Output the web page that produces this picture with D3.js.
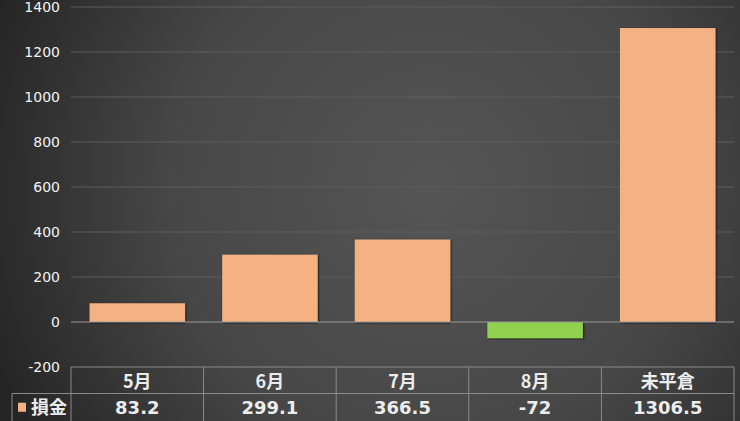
<!DOCTYPE html>
<html>
<head>
<meta charset="utf-8">
<script src="https://cdn.jsdelivr.net/npm/d3@7"></script>
<style>
  html, body { margin: 0; padding: 0; background: #2a2a2a; }
  svg { display: block; }
  text { font-family: "Noto Sans CJK JP", "Noto Sans", sans-serif; }
</style>
</head>
<body>
<div id="chart"></div>
<script>
// data
var categories = ["5月", "6月", "7月", "8月", "未平倉"];
var values = [83.2, 299.1, 366.5, -72, 1306.5];
var valueLabels = ["83.2", "299.1", "366.5", "-72", "1306.5"];
var seriesName = "損金";
var yTicks = [-200, 0, 200, 400, 600, 800, 1000, 1200, 1400];

var W = 740, H = 421;
var margin = {top: 7, right: 6, bottom: 54, left: 71};
var plotW = W - margin.left - margin.right;
var plotH = H - margin.top - margin.bottom;

var svg = d3.select("#chart").append("svg")
  .attr("width", W)
  .attr("height", H);

var defs = svg.append("defs");
var grad = defs.append("radialGradient")
  .attr("id", "bg")
  .attr("gradientUnits", "userSpaceOnUse")
  .attr("cx", 430).attr("cy", 190).attr("r", 470);
grad.append("stop").attr("offset", "0%").attr("stop-color", "#555555");
grad.append("stop").attr("offset", "55%").attr("stop-color", "#474747");
grad.append("stop").attr("offset", "100%").attr("stop-color", "#252525");

var shadow = defs.append("filter").attr("id", "shadow")
  .attr("x", "-10%").attr("y", "-10%").attr("width", "120%").attr("height", "120%");
shadow.append("feDropShadow")
  .attr("dx", 0.8).attr("dy", 0.8).attr("stdDeviation", 0.8)
  .attr("flood-color", "#000").attr("flood-opacity", 0.75);

svg.append("rect").attr("width", W).attr("height", H).attr("fill", "url(#bg)");

var g = svg.append("g").attr("transform", "translate(" + margin.left + "," + margin.top + ")");

var x = d3.scaleBand()
  .domain(categories)
  .range([0, plotW])
  .paddingInner(0.28)
  .paddingOuter(0.14);

var y = d3.scaleLinear()
  .domain([-200, 1400])
  .range([plotH, 0]);

// gridlines
g.append("g")
  .selectAll("line")
  .data(yTicks.filter(function(d){ return d !== 0 && d !== -200; }))
  .enter()
  .append("line")
  .attr("x1", 0).attr("x2", plotW)
  .attr("y1", function(d){ return y(d); })
  .attr("y2", function(d){ return y(d); })
  .attr("stroke", "#5c5c5c")
  .attr("stroke-width", 1);

// y axis labels
var yAxis = g.append("g")
  .call(d3.axisLeft(y).tickValues(yTicks).tickSize(0).tickPadding(11)
    .tickFormat(function(d){ return d < 0 ? "-" + Math.abs(d) : d; }));
yAxis.select(".domain").remove();
yAxis.selectAll("text")
  .attr("fill", "#f2f2f2")
  .style("font-size", "14px")
  .style("font-family", "'DejaVu Sans', 'Noto Sans', sans-serif");

// bars
g.append("g")
  .selectAll("rect")
  .data(values)
  .enter()
  .append("rect")
  .attr("x", function(d, i){ return x(categories[i]); })
  .attr("width", x.bandwidth())
  .attr("y", function(d){ return y(Math.max(0, d)); })
  .attr("height", function(d){ return Math.abs(y(d) - y(0)); })
  .attr("fill", function(d){ return d < 0 ? "#92d050" : "#f4b183"; })
  .attr("filter", "url(#shadow)");

// zero line
g.append("line")
  .attr("x1", 0).attr("x2", plotW)
  .attr("y1", y(0)).attr("y2", y(0))
  .attr("stroke", "#9a9a9a")
  .attr("stroke-width", 1.2);

// data table
var tableTop = y(-200);
var rowH = 26.5;
var tableLeft = 12 - margin.left;
var lineColor = "#8a8a8a";
var table = g.append("g").attr("class", "table");

// horizontal lines
table.append("line")
  .attr("x1", 0).attr("x2", plotW)
  .attr("y1", tableTop).attr("y2", tableTop)
  .attr("stroke", lineColor);
table.append("line")
  .attr("x1", tableLeft).attr("x2", plotW)
  .attr("y1", tableTop + rowH).attr("y2", tableTop + rowH)
  .attr("stroke", lineColor);

// vertical lines (category boundaries)
var bounds = [0].concat(categories.map(function(c){ return x(c) + x.bandwidth() + x.step() * x.paddingInner() / 2; }));
bounds[bounds.length - 1] = plotW;
table.selectAll(".vline")
  .data(bounds)
  .enter()
  .append("line")
  .attr("class", "vline")
  .attr("x1", function(d){ return d; }).attr("x2", function(d){ return d; })
  .attr("y1", tableTop).attr("y2", H)
  .attr("stroke", lineColor);
table.append("line")
  .attr("x1", tableLeft).attr("x2", tableLeft)
  .attr("y1", tableTop + rowH).attr("y2", H)
  .attr("stroke", lineColor);

// category labels
table.selectAll(".cat")
  .data(categories)
  .enter()
  .append("text")
  .attr("class", "cat")
  .attr("x", function(d){ return x(d) + x.bandwidth() / 2; })
  .attr("y", tableTop + rowH / 2 + 1)
  .attr("dy", "0.36em")
  .attr("text-anchor", "middle")
  .attr("fill", "#ececec")
  .style("font-size", "18px")
  .style("font-weight", "bold")
  .text(function(d){ return d; });

// values row
table.selectAll(".val")
  .data(valueLabels)
  .enter()
  .append("text")
  .attr("class", "val")
  .attr("x", function(d, i){ return x(categories[i]) + x.bandwidth() / 2; })
  .attr("y", tableTop + rowH * 1.5 + 1)
  .attr("dy", "0.36em")
  .attr("text-anchor", "middle")
  .attr("fill", "#ececec")
  .style("font-size", "18px")
  .style("font-weight", "bold")
  .style("font-family", "'DejaVu Sans', 'Noto Sans', sans-serif")
  .text(function(d){ return d; });

// legend key + series name
table.append("rect")
  .attr("x", tableLeft + 6).attr("y", tableTop + rowH * 1.5 - 4)
  .attr("width", 8).attr("height", 9)
  .attr("fill", "#f4b183");
table.append("text")
  .attr("x", tableLeft + 19)
  .attr("y", tableTop + rowH * 1.5 + 1)
  .attr("dy", "0.36em")
  .attr("fill", "#ececec")
  .style("font-size", "18px")
  .style("font-weight", "bold")
  .text(seriesName);
</script>
</body>
</html>
